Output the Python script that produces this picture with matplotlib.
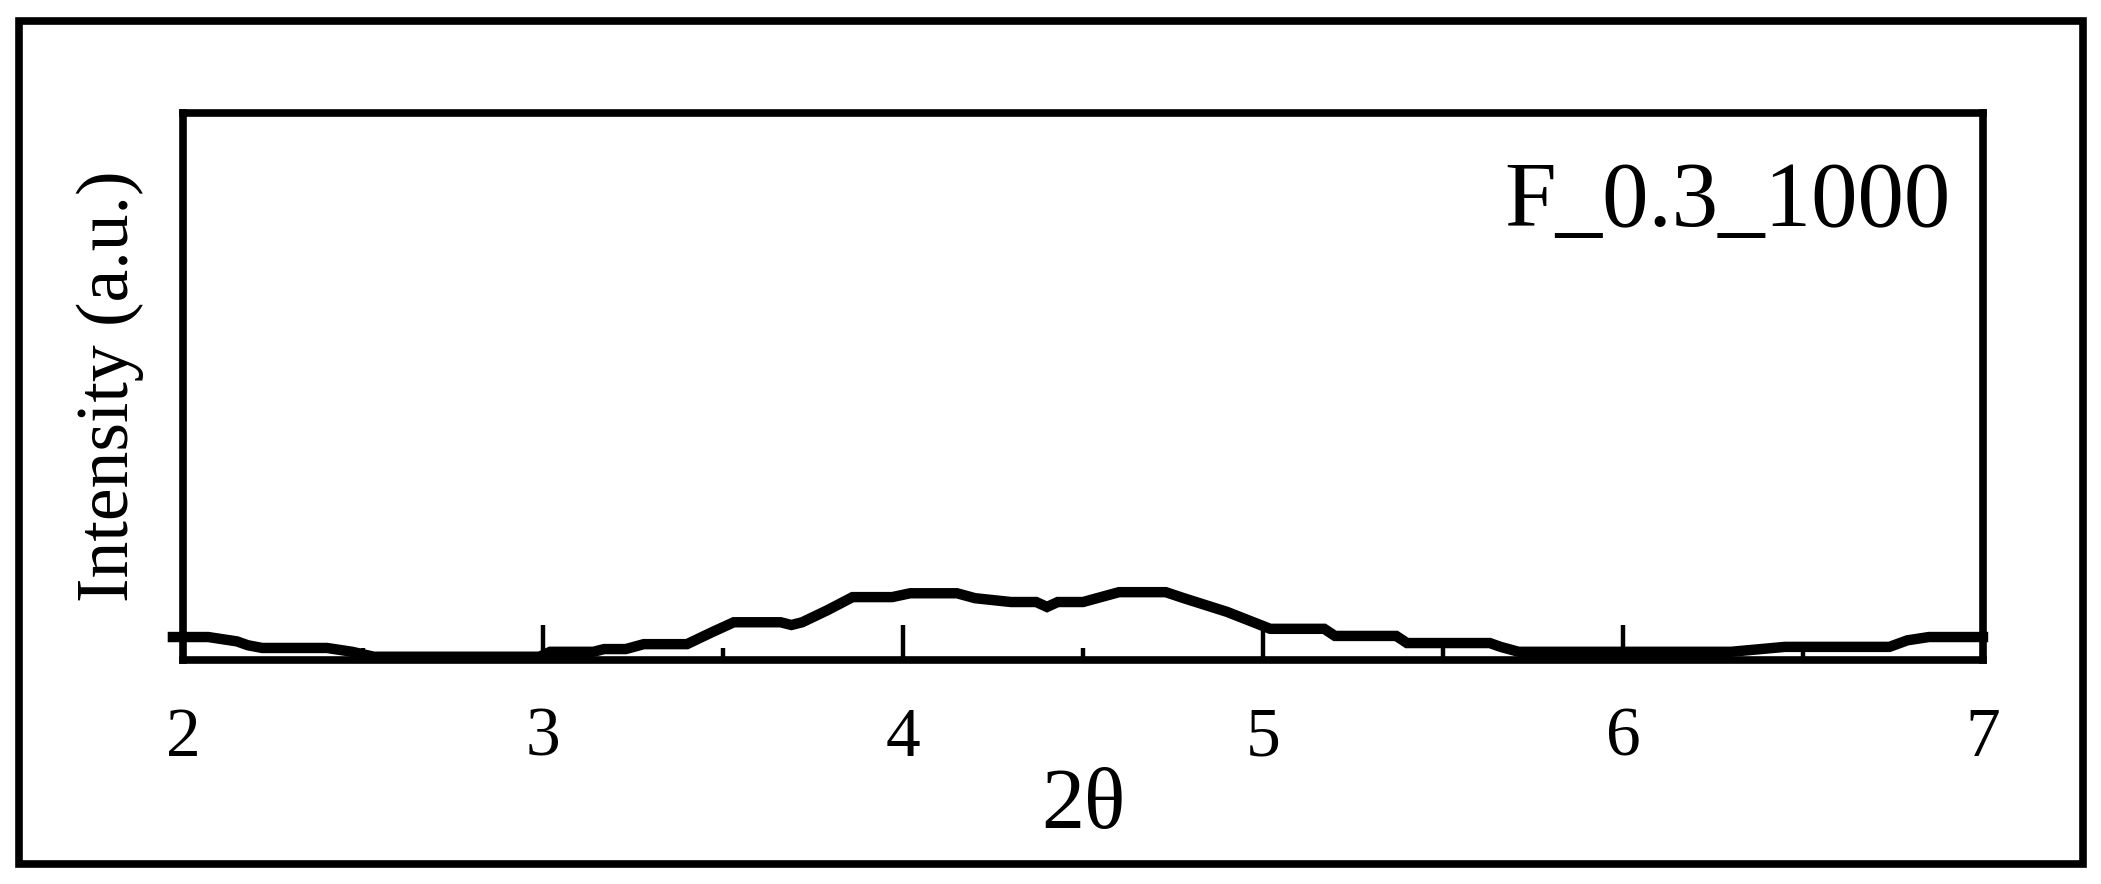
import matplotlib.pyplot as plt
from matplotlib.patches import Rectangle
from matplotlib.ticker import MultipleLocator

plt.rcParams['font.family'] = ['Liberation Serif', 'DejaVu Serif']

# XRD trace (2theta, intensity in a.u.)
two_theta = [1.972, 2.07, 2.15, 2.18, 2.22, 2.40, 2.47, 2.53, 2.75, 2.99,
             3.02, 3.14, 3.17, 3.23, 3.28, 3.40, 3.47, 3.53, 3.66, 3.69,
             3.72, 3.79, 3.86, 3.97, 4.02, 4.15, 4.20, 4.30, 4.37, 4.40,
             4.43, 4.50, 4.55, 4.60, 4.73, 4.78, 4.90, 5.02, 5.17, 5.20,
             5.37, 5.40, 5.63, 5.66, 5.71, 6.30, 6.45, 6.74, 6.79, 6.85, 7.00]
intensity = [4.2, 4.2, 3.4, 2.7, 2.2, 2.2, 1.5, 0.6, 0.6, 0.6,
             1.5, 1.5, 2.0, 2.0, 2.9, 2.9, 5.1, 6.9, 6.9, 6.4,
             6.9, 9.1, 11.5, 11.5, 12.2, 12.2, 11.3, 10.6, 10.6, 9.7,
             10.6, 10.6, 11.5, 12.4, 12.4, 11.3, 8.8, 5.7, 5.7, 4.4,
             4.4, 3.1, 3.1, 2.4, 1.5, 1.5, 2.4, 2.4, 3.6, 4.2, 4.2]
x_ticks = [2, 3, 4, 5, 6, 7]
sample_name = "F_0.3_1000"

fig = plt.figure(figsize=(21.01, 8.84), dpi=100)
ax = fig.add_axes([183 / 2101, 1 - 660 / 884, 1800 / 2101, 547 / 884])

ax.plot(two_theta, intensity, color='black', linewidth=7.5, clip_on=False,
        solid_joinstyle='miter')

ax.set_xlim(2, 7)
ax.set_ylim(0, 100)
ax.set_xticks(x_ticks)
ax.xaxis.set_minor_locator(MultipleLocator(0.5))
ax.set_yticks([])
ax.tick_params(axis='x', which='major', direction='in', length=25, width=3.2,
               pad=34, labelsize=50)
ax.tick_params(axis='x', which='minor', direction='in', length=9, width=3.2)
for sp in ax.spines.values():
    sp.set_linewidth(5.5)

ax.set_xlabel("2θ", fontsize=62, labelpad=-2)
ax.set_ylabel("Intensity (a.u.)", fontsize=53, labelpad=28)
ax.text(0.982, 0.835, sample_name, transform=ax.transAxes, ha='right',
        va='center', fontsize=67)

# outer frame around the figure
fig.patches.append(Rectangle((18.5 / 2101, 1 - 863.5 / 884), 2064.5 / 2101,
                             843 / 884, transform=fig.transFigure,
                             fill=False, edgecolor='black', linewidth=5.5))

fig.savefig("out.png", dpi=100)
